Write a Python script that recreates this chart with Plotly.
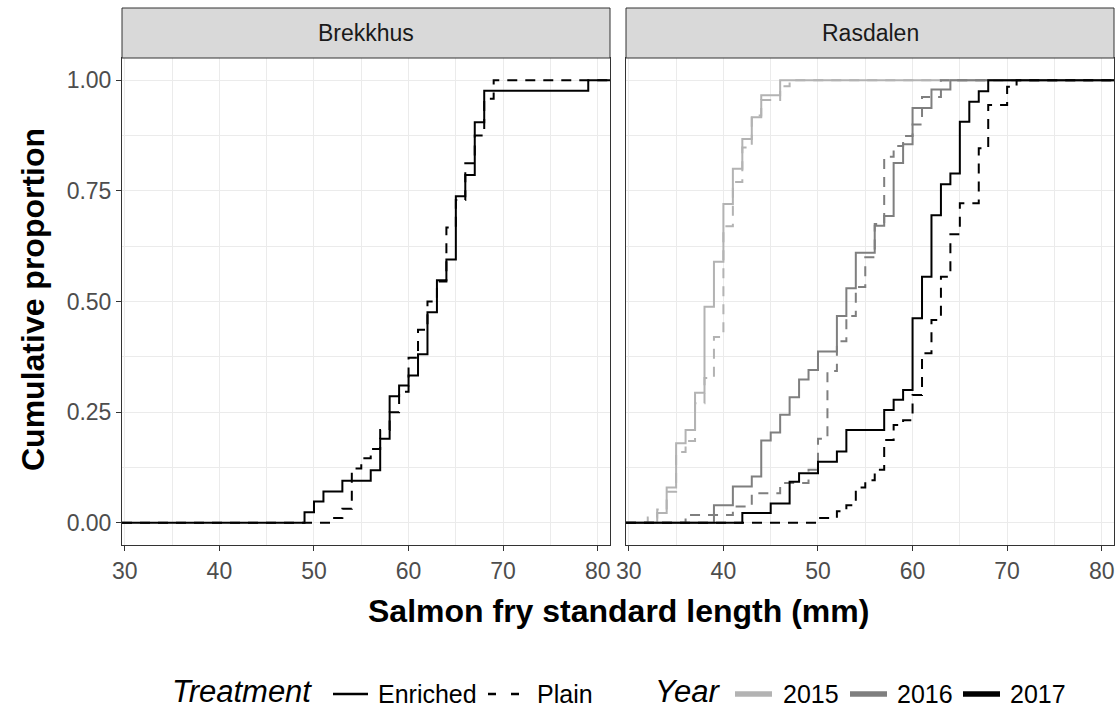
import plotly.graph_objects as go

# ---------------- data ----------------
x_range = [29.7, 81.3]

brek_enr_len = [49, 50, 51, 53, 56, 57, 58, 59, 60, 61, 62, 63, 64, 65, 66, 67, 68, 79]
brek_enr_p = [0.024, 0.048, 0.071, 0.095, 0.119, 0.190, 0.286, 0.310, 0.333, 0.381,
              0.476, 0.548, 0.595, 0.738, 0.786, 0.905, 0.976, 1.0]
brek_pla_len = [52, 53, 54, 55, 56, 57, 58, 59, 60, 61, 62, 63, 64, 65, 66, 67, 68, 69]
brek_pla_p = [0.011, 0.032, 0.123, 0.146, 0.167, 0.21, 0.25, 0.296, 0.373, 0.436,
              0.50, 0.545, 0.667, 0.729, 0.812, 0.875, 0.958, 1.0]

ras15_enr_len = [33, 34, 35, 36, 37, 38, 39, 40, 41, 42, 43, 44, 46]
ras15_enr_p = [0.022, 0.08, 0.18, 0.21, 0.294, 0.488, 0.59, 0.72, 0.80, 0.867, 0.916, 0.966, 1.0]
ras15_pla_len = [32, 33, 34, 35, 36, 37, 38, 39, 40, 41, 42, 43, 44, 46, 47]
ras15_pla_p = [0.012, 0.03, 0.07, 0.16, 0.185, 0.27, 0.327, 0.42, 0.67, 0.77, 0.848, 0.92,
               0.955, 0.986, 1.0]

ras16_enr_len = [39, 41, 43, 44, 45, 46, 47, 48, 49, 50, 52, 53, 54, 56, 57, 58, 59, 60, 62, 64]
ras16_enr_p = [0.04, 0.082, 0.105, 0.186, 0.204, 0.244, 0.284, 0.324, 0.345, 0.387, 0.467,
               0.53, 0.61, 0.671, 0.693, 0.813, 0.855, 0.937, 0.979, 1.0]
ras16_pla_len = [36, 41, 43, 46, 49, 50, 51, 52, 53, 54, 55, 56, 57, 58, 59, 60, 61, 63]
ras16_pla_p = [0.018, 0.037, 0.067, 0.09, 0.12, 0.19, 0.343, 0.41, 0.467, 0.533, 0.60, 0.675,
               0.827, 0.851, 0.874, 0.90, 0.962, 1.0]

ras17_enr_len = [42, 45, 47, 48, 50, 52, 53, 57, 58, 59, 60, 61, 62, 63, 64, 65, 66, 67, 68]
ras17_enr_p = [0.022, 0.044, 0.093, 0.112, 0.138, 0.161, 0.21, 0.255, 0.278, 0.30, 0.462,
               0.556, 0.695, 0.765, 0.789, 0.906, 0.951, 0.975, 1.0]
ras17_pla_len = [50, 52, 53, 54, 55, 56, 57, 58, 59, 60, 61, 62, 63, 64, 65, 67, 68, 70, 71]
ras17_pla_p = [0.011, 0.026, 0.04, 0.08, 0.096, 0.12, 0.187, 0.221, 0.232, 0.289, 0.383,
               0.458, 0.556, 0.652, 0.722, 0.846, 0.944, 0.985, 1.0]

years = ["2015", "2016", "2017"]
year_colors = {"2015": "#B3B3B3", "2016": "#7F7F7F", "2017": "#000000"}
treatments = ["Enriched", "Plain"]
treat_dash = {"Enriched": "solid", "Plain": "10px,8px"}
x_ticks = [30, 40, 50, 60, 70, 80]
y_ticks = [0, 0.25, 0.5, 0.75, 1.0]
y_ticktext = ["0.00", "0.25", "0.50", "0.75", "1.00"]
facets = ["Brekkhus", "Rasdalen"]

FONT = "Liberation Sans, Arial, sans-serif"
W, H = 1120, 710

fig = go.Figure()


def ecdf_trace(lens, ps, color, dash, xa, ya):
    xs = [x_range[0]] + list(lens) + [x_range[1]]
    ys = [0.0] + list(ps) + [1.0]
    return go.Scatter(x=xs, y=ys, mode="lines", line_shape="hv",
                      line=dict(color=color, width=2, dash=dash),
                      xaxis=xa, yaxis=ya, showlegend=False, hoverinfo="skip")


# Brekkhus (black)
fig.add_trace(ecdf_trace(brek_enr_len, brek_enr_p, year_colors["2017"], treat_dash["Enriched"], "x", "y"))
fig.add_trace(ecdf_trace(brek_pla_len, brek_pla_p, year_colors["2017"], treat_dash["Plain"], "x", "y"))

# Rasdalen
ras = {
    "2015": ((ras15_enr_len, ras15_enr_p), (ras15_pla_len, ras15_pla_p)),
    "2016": ((ras16_enr_len, ras16_enr_p), (ras16_pla_len, ras16_pla_p)),
    "2017": ((ras17_enr_len, ras17_enr_p), (ras17_pla_len, ras17_pla_p)),
}
for yr in years:
    (el, ep), (pl, pp) = ras[yr]
    fig.add_trace(ecdf_trace(el, ep, year_colors[yr], treat_dash["Enriched"], "x2", "y2"))
    fig.add_trace(ecdf_trace(pl, pp, year_colors[yr], treat_dash["Plain"], "x2", "y2"))

# ---------------- layout ----------------
px_l = [(122, 610), (626, 1114)]
panel_top, panel_bot = 58, 545
strip_top = 8

axis_common = dict(
    range=x_range, tickvals=x_ticks, ticks="outside", ticklen=5, tickwidth=1,
    tickcolor="#333333", tickfont=dict(family=FONT, size=23, color="#4D4D4D"),
    showline=True, mirror=True, linecolor="#333333", linewidth=1,
    showgrid=True, gridcolor="#EBEBEB", gridwidth=1.3, zeroline=False,
    minor=dict(dtick=5, showgrid=True, gridcolor="#EBEBEB", gridwidth=0.7, ticks=""),
)
ydom = [(H - panel_bot) / H, (H - panel_top) / H]
yaxis_common = dict(
    range=[-0.05, 1.05], domain=ydom, tickvals=y_ticks, ticktext=y_ticktext,
    showline=True, mirror=True, linecolor="#333333", linewidth=1,
    showgrid=True, gridcolor="#EBEBEB", gridwidth=1.3, zeroline=False,
    minor=dict(dtick=0.125, showgrid=True, gridcolor="#EBEBEB", gridwidth=0.7, ticks=""),
    tickfont=dict(family=FONT, size=23, color="#4D4D4D"), tickcolor="#333333",
)

fig.update_layout(
    width=W, height=H,
    margin=dict(l=0, r=0, t=0, b=0, autoexpand=False),
    paper_bgcolor="white", plot_bgcolor="white",
    font=dict(family=FONT),
    showlegend=False,
    xaxis=dict(domain=[px_l[0][0] / W, px_l[0][1] / W], anchor="y", **axis_common),
    xaxis2=dict(domain=[px_l[1][0] / W, px_l[1][1] / W], anchor="y2", **axis_common),
    yaxis=dict(anchor="x", ticks="outside", ticklen=5, tickwidth=1, **yaxis_common),
    yaxis2=dict(anchor="x2", matches="y", ticks="", showticklabels=False, **yaxis_common),
)

shapes = []
annotations = []
for (l, r), name in zip(px_l, facets):
    shapes.append(dict(type="rect", xref="paper", yref="paper",
                       x0=l / W, x1=r / W, y0=(H - panel_top) / H, y1=(H - strip_top) / H,
                       fillcolor="#D9D9D9", line=dict(color="#333333", width=1), layer="above"))
    annotations.append(dict(text=name, xref="paper", yref="paper",
                            x=(l + r) / 2 / W, y=(H - (strip_top + panel_top) / 2) / H,
                            xanchor="center", yanchor="middle", showarrow=False,
                            font=dict(family=FONT, size=23, color="#1A1A1A")))

annotations.append(dict(text="<b>Salmon fry standard length (mm)</b>", xref="paper", yref="paper",
                        x=618 / W, y=(H - 611) / H, xanchor="center", yanchor="middle",
                        showarrow=False, font=dict(family=FONT, size=32, color="black")))
annotations.append(dict(text="<b>Cumulative proportion</b>", xref="paper", yref="paper",
                        x=33 / W, y=(H - 300) / H, xanchor="center", yanchor="middle",
                        textangle=-90, showarrow=False,
                        font=dict(family=FONT, size=32, color="black")))

# ---------------- legends (keys + labels) ----------------
leg_y = 694


def leg_text(txt, x_px, size, italic=False):
    t = f"<i>{txt}</i>" if italic else txt
    return dict(text=t, xref="paper", yref="paper", x=x_px / W, y=(H - leg_y) / H,
                xanchor="left", yanchor="middle", showarrow=False, borderpad=0,
                font=dict(family=FONT, size=size, color="black"))


def leg_title(txt, x_px, size):
    return dict(text=f"<i>{txt}</i>", xref="paper", yref="paper", x=x_px / W, y=0.0,
                xanchor="left", yanchor="bottom", showarrow=False, borderpad=0,
                font=dict(family=FONT, size=size, color="black"))


def leg_key(x0, x1, color, width, dash="solid"):
    return dict(type="line", xref="paper", yref="paper", x0=x0 / W, x1=x1 / W,
                y0=(H - leg_y) / H, y1=(H - leg_y) / H,
                line=dict(color=color, width=width, dash=dash))


annotations.append(leg_title("Treatment", 171, 31))
treat_keys = {"Enriched": (333, 368, "solid"), "Plain": (488, 520, "8px,15px")}
treat_text_x = {"Enriched": 377, "Plain": 536}
for t in treatments:
    x0, x1, d = treat_keys[t]
    shapes.append(leg_key(x0, x1, "black", 2.5, d))
    annotations.append(leg_text(t, treat_text_x[t], 25))

annotations.append(leg_title("Year", 654, 31))
year_keys = {"2015": (735, 772), "2016": (850, 887), "2017": (963, 1000)}
year_text_x = {"2015": 782, "2016": 896, "2017": 1009}
for yr in years:
    x0, x1 = year_keys[yr]
    shapes.append(leg_key(x0, x1, year_colors[yr], 5.5))
    annotations.append(leg_text(yr, year_text_x[yr], 25))

fig.update_layout(shapes=shapes, annotations=annotations)

fig.write_html("out.html")
